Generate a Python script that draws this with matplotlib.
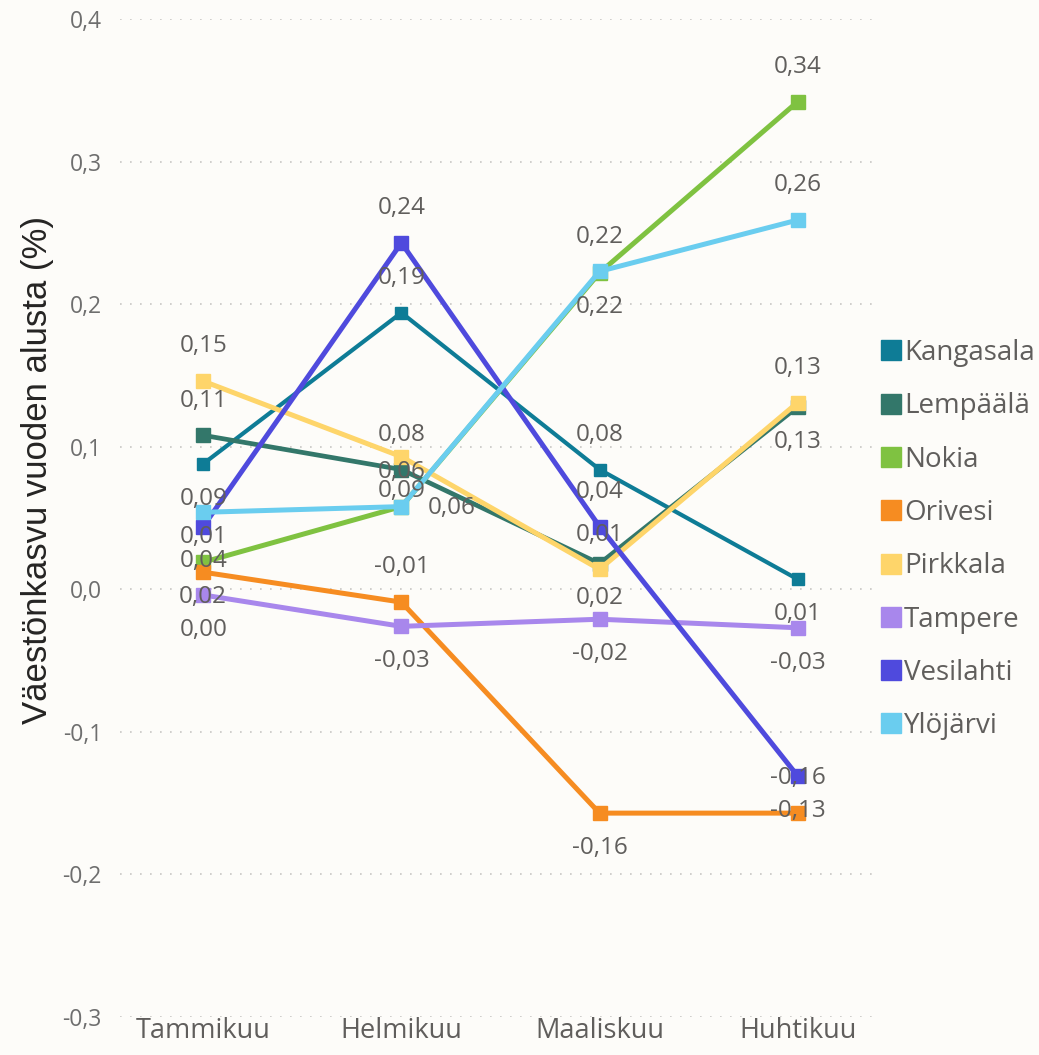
import matplotlib.pyplot as plt
from matplotlib.lines import Line2D

months = ["Tammikuu", "Helmikuu", "Maaliskuu", "Huhtikuu"]
series = ["Kangasala", "Lempäälä", "Nokia", "Orivesi",
          "Pirkkala", "Tampere", "Vesilahti", "Ylöjärvi"]
kangasala = [0.088, 0.194, 0.084, 0.007]
lempaala = [0.108, 0.084, 0.018, 0.128]
nokia = [0.019, 0.058, 0.222, 0.342]
orivesi = [0.012, -0.009, -0.157, -0.157]
pirkkala = [0.146, 0.093, 0.014, 0.131]
tampere = [-0.004, -0.026, -0.021, -0.027]
vesilahti = [0.044, 0.243, 0.044, -0.131]
ylojarvi = [0.054, 0.058, 0.223, 0.259]
values = [kangasala, lempaala, nokia, orivesi, pirkkala, tampere, vesilahti, ylojarvi]

# where Power BI put each data label: a = above, b = below, r = right, None = hidden
label_pos = [
    ["b", "a", "a", "b"],
    ["a", "a", "b", "b"],
    ["b", "a", "b", "a"],
    ["a", "a", "b", "a"],
    ["a", "b", "a", "a"],
    ["b", "b", "b", "b"],
    ["b", "a", "a", "b"],
    [None, "r", "a", "a"],
]
colors = ["#0E7C96", "#33776A", "#7FC241", "#F68C21",
          "#FED56A", "#A887EC", "#4F4ADD", "#6ACDEF"]
widths = [3.0, 3.4, 3.6, 3.6, 3.6, 3.6, 3.6, 3.6]
msizes = [8, 10, 10, 10, 10, 10, 10, 10]

bg = "#FDFCF9"
grey = "#605E5C"

fig = plt.figure(figsize=(10.39, 10.55), dpi=100, facecolor=bg)
ax = fig.add_axes([120 / 1039, 38 / 1055, 755 / 1039, 998 / 1055])
ax.set_facecolor(bg)

x = list(range(len(months)))
for name, ys, c, lw, ms in zip(series, values, colors, widths, msizes):
    ax.plot(x, ys, color=c, lw=lw, marker="s", ms=ms, solid_joinstyle="miter")

def fmt(v):
    s = f"{v:.2f}".replace(".", ",")
    return "0,00" if s == "-0,00" else s

for ys, pos in zip(values, label_pos):
    for xi, (v, p) in enumerate(zip(ys, pos)):
        if p is None:
            continue
        if p == "a":
            off, ha = (0, 25), "center"
        elif p == "b":
            off, ha = (0, -25), "center"
        else:
            off, ha = (19, -1), "left"
        ax.annotate(fmt(v), (xi, v), xytext=off, textcoords="offset points",
                    ha=ha, va="center", fontsize=17.5, color=grey, family="Open Sans")

ax.set_xlim(-0.42, 3.39)
ax.set_ylim(-0.3, 0.4)
yt = [-0.3, -0.2, -0.1, 0.0, 0.1, 0.2, 0.3, 0.4]
ax.set_yticks(yt)
ax.set_yticklabels([f"{t:.1f}".replace(".", ",") for t in yt],
                   fontsize=16.5, color="#6E6E6E", family="Open Sans")
ax.set_xticks(x)
ax.set_xticklabels(months, fontsize=19.5, color=grey, family="Open Sans")
ax.tick_params(axis="both", length=0)
ax.tick_params(axis="y", pad=13)
ax.tick_params(axis="x", pad=0)
ax.grid(axis="y", color="#C8C6C4", linestyle=(0, (1, 5)), lw=1.2)
for s in ax.spines.values():
    s.set_visible(False)

ax.set_ylabel("Väestönkasvu vuoden alusta (%)", fontsize=25,
              color="#252423", family="Liberation Sans")
ax.yaxis.set_label_coords(-0.087, 0.548)

handles = [Line2D([], [], color=c, marker="s", ls="none", ms=14.5) for c in colors]
fig.legend(handles, series, loc="upper left", bbox_to_anchor=(872 / 1039, 727 / 1055),
           frameon=False, labelcolor=grey, handlelength=0.6, borderaxespad=0,
           handletextpad=0.15, labelspacing=0.91, prop={"family": "Open Sans", "size": 20})

fig.savefig("out.png", dpi=100, facecolor=bg)
